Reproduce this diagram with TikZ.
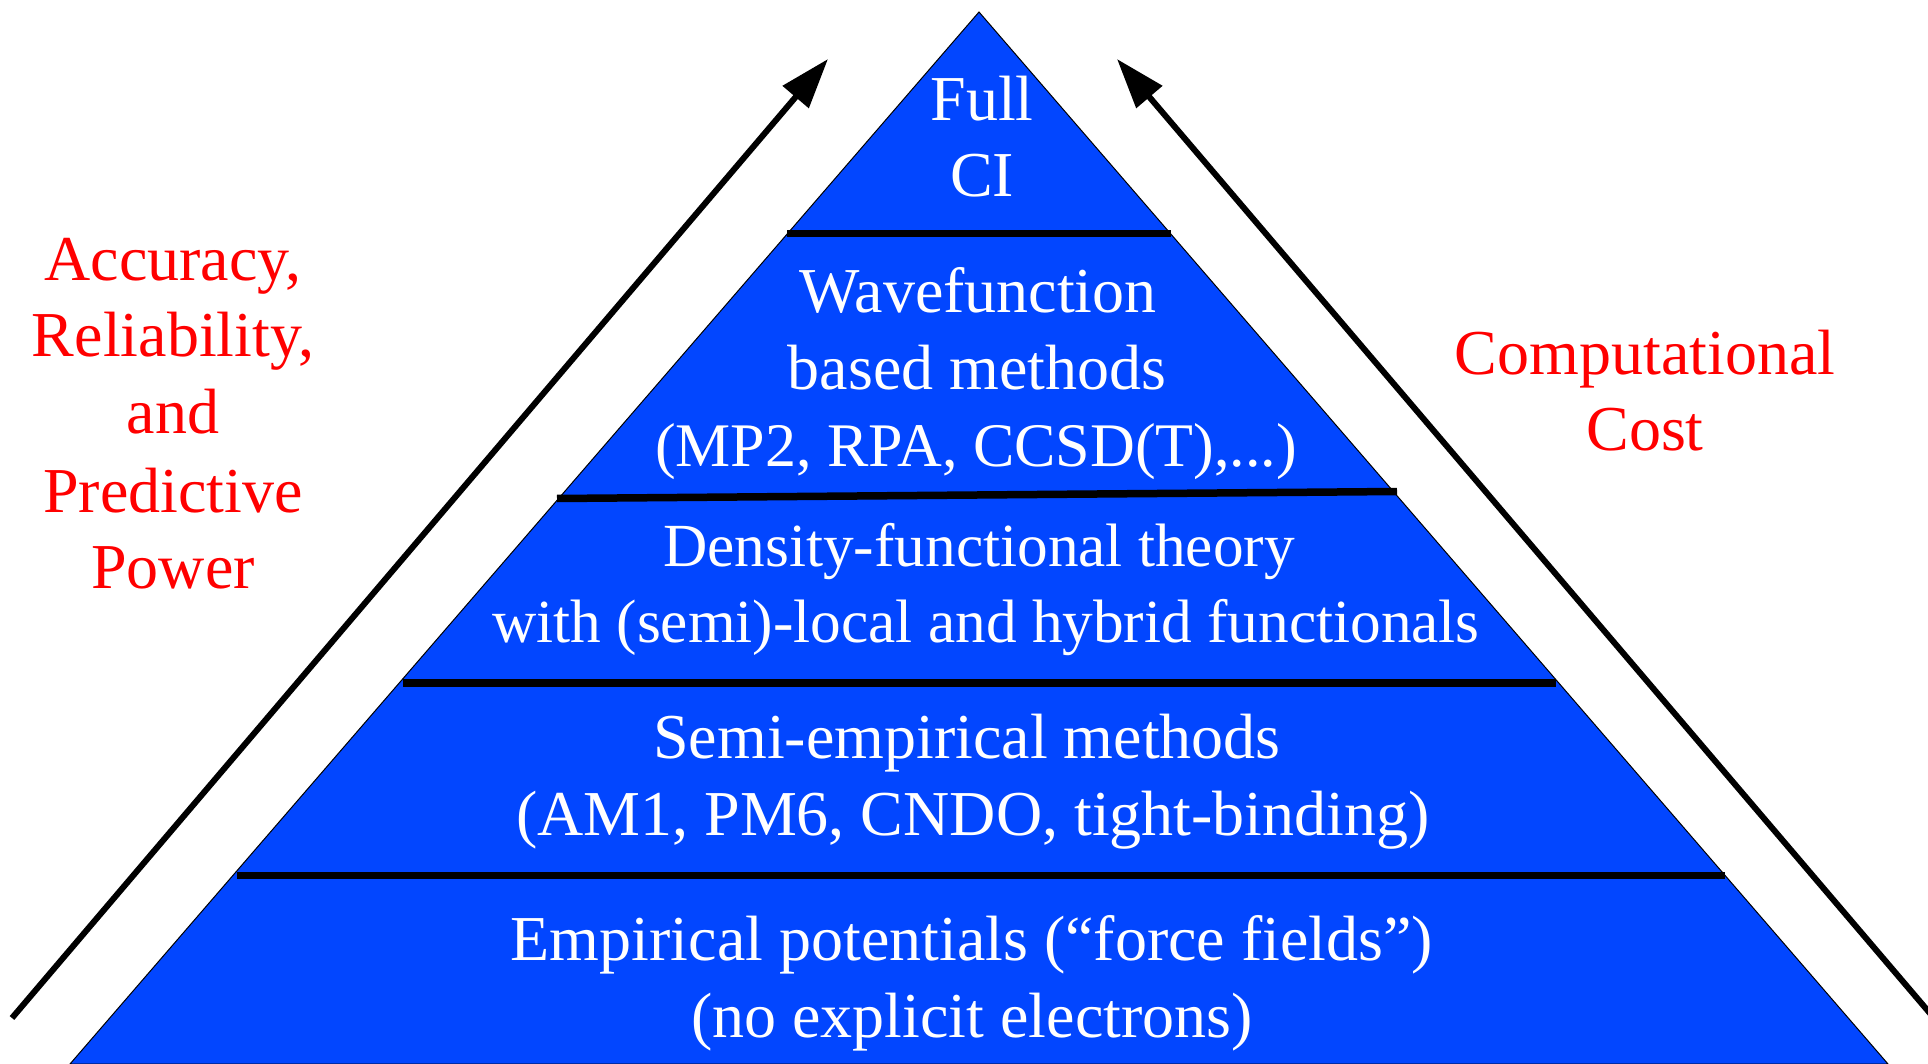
\documentclass[tikz,border=0pt]{standalone}
\usepackage{fontspec}
\setmainfont{Liberation Serif}
\usetikzlibrary{arrows.meta}
\definecolor{pyrblue}{RGB}{2,70,255}
\definecolor{pyrred}{RGB}{255,0,0}
\begin{document}
\begin{tikzpicture}[x=1pt,y=-1pt,
  layertext/.style={anchor=base,inner sep=0pt,text=white,font=\fontsize{64}{77}\selectfont},
  narrowtext/.style={layertext,font=\fontsize{61.3}{77}\selectfont},
  sidetext/.style={anchor=base,inner sep=0pt,text=pyrred,font=\fontsize{64}{77}\selectfont},
  divider/.style={line width=7.5pt,black},
  bigarrow/.style={line width=6pt,-{Triangle[length=50pt,width=33pt]}}
]
\useasboundingbox (0,0) rectangle (1928,1064);
% pyramid
\coordinate (apex) at (979,12);
\coordinate (bl) at (70,1064);
\coordinate (br) at (1888,1064);
\filldraw[fill=pyrblue,draw=black,line width=1pt] (apex) -- (br) -- (bl) -- cycle;
% dividers
\coordinate (d1l) at (787,233.7);  \coordinate (d1r) at (1171,233.7);
\coordinate (d2l) at (557,498.5);  \coordinate (d2r) at (1397,491.5);
\coordinate (d3l) at (403,683);    \coordinate (d3r) at (1556,683);
\coordinate (d4l) at (237,875.5);  \coordinate (d4r) at (1725,875.5);
\draw[divider] (d1l) -- (d1r);
\draw[divider] (d2l) -- (d2r);
\draw[divider] (d3l) -- (d3r);
\draw[divider] (d4l) -- (d4r);
% layer texts
\node[layertext] (fci1) at (982,120.7) {Full};
\node[layertext] (fci2) at (982,197) {CI};
\node[layertext] (wf1) at (978,313) {Wavefunction};
\node[layertext] (wf2) at (977,390) {based methods};
\node[layertext,font=\fontsize{62}{77}\selectfont] (wf3) at (976,467) {(MP2, RPA, CCSD(T),...)};
\node[narrowtext] (dft1) at (979,566) {Density-functional theory};
\node[narrowtext] (dft2) at (986,642) {with (semi)-local and hybrid functionals};
\node[layertext] (se1) at (967,758) {Semi-empirical methods};
\node[layertext] (se2) at (973,835) {(AM1, PM6, CNDO, tight-binding)};
\node[layertext] (emp1) at (972,960) {Empirical potentials (“force fields”)};
\node[layertext] (emp2) at (972,1037) {(no explicit electrons)};
% side texts
\node[sidetext] (acc1) at (173,281) {Accuracy,};
\node[sidetext] (acc2) at (173,357) {Reliability,};
\node[sidetext] (acc3) at (173,433) {and};
\node[sidetext] (acc4) at (173,512) {Predictive};
\node[sidetext] (acc5) at (173,588) {Power};
\node[sidetext] (cost1) at (1645,375) {Computational};
\node[sidetext] (cost2) at (1645,450) {Cost};
% arrows
\coordinate (la0) at (12,1018);
\coordinate (la1) at (828,59);
\coordinate (ra0) at (1934,1018);
\coordinate (ra1) at (1117,59);
\draw[bigarrow] (la0) -- (la1);
\draw[bigarrow] (ra0) -- (ra1);
\end{tikzpicture}
\end{document}
